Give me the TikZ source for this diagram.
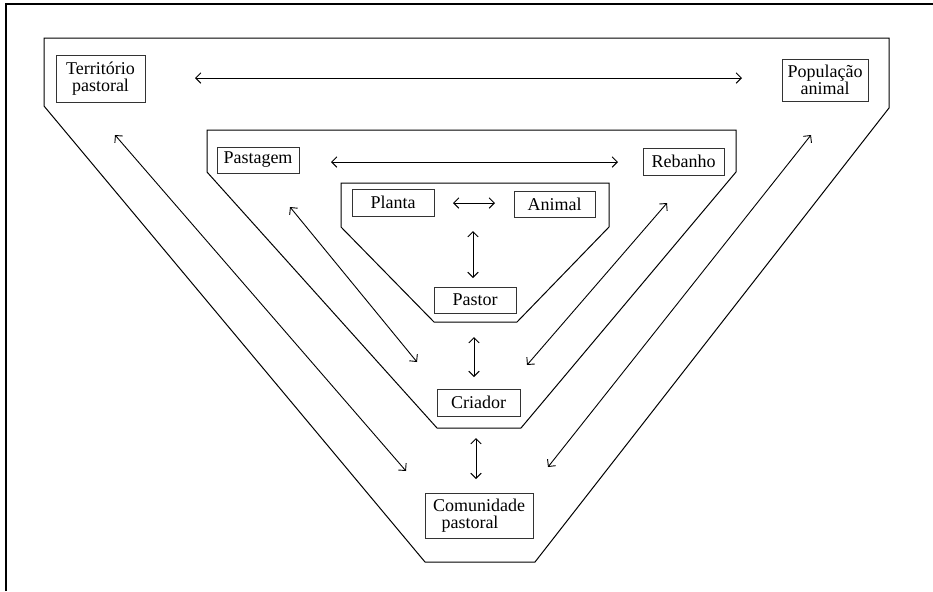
\documentclass[tikz,border=0pt]{standalone}
\usepackage{fontspec}
\setmainfont{Liberation Serif}
\newfontfamily\timesfont{Liberation Serif}
\usetikzlibrary{arrows.meta}
\begin{document}
\begin{tikzpicture}[x=0.5pt,y=-0.5pt,
  lbl/.style={draw=black!80, line width=0.5pt, inner sep=0pt, align=center,
    font=\timesfont\fontsize{9}{8.5}\selectfont},
  frame/.style={line width=0.5pt},
  link/.style={line width=0.45pt, {Straight Barb[length=2.6pt,width=5.2pt]}-{Straight Barb[length=2.6pt,width=5.2pt]}},
  edge/.style={line width=1pt}]
\useasboundingbox (0,0) rectangle (933,591);
% page frame (top and left)
\draw[edge] (6,591) -- (6,4) -- (933,4);
% trapezoid frames
\draw[frame] (44,38) -- (889,38) -- (889,108) -- (535,562) -- (425,562) -- (44,106) -- cycle;
\draw[frame] (207,130) -- (736,130) -- (736,172) -- (521,428) -- (437,428) -- (207,172) -- cycle;
\draw[frame] (341,183) -- (609,183) -- (609,227) -- (517,322) -- (434,322) -- (341,227) -- cycle;
% boxes
\node[lbl, minimum width=44.5pt, minimum height=23.5pt] (ter) at (100.5,78.5) {Território\\pastoral};
\node[lbl, minimum width=43pt, minimum height=21pt] (pop) at (825,80) {População\\animal};
\node[lbl, minimum width=41pt, minimum height=13pt] (pas) at (258,160) {Pastagem};
\node[lbl, minimum width=40.5pt, minimum height=13.5pt] (reb) at (683.5,161.5) {Rebanho};
\node[lbl, minimum width=41pt, minimum height=13.5pt] (pla) at (393,202.5) {Planta};
\node[lbl, minimum width=40.5pt, minimum height=13pt] (ani) at (554.5,204) {Animal};
\node[lbl, minimum width=41pt, minimum height=13pt] (pst) at (475,300) {Pastor};
\node[lbl, minimum width=41.5pt, minimum height=13.5pt] (cri) at (478.5,402.5) {Criador};
\node[lbl, minimum width=54pt, minimum height=22.5pt] (com) at (479,515.5) {Comunidade\\\hspace*{-9pt}pastoral};
% anchor coordinates for arrow ends
\coordinate (a1) at (195,78);  \coordinate (b1) at (742,78);
\coordinate (a2) at (331,162); \coordinate (b2) at (618,162);
\coordinate (a3) at (453,203); \coordinate (b3) at (495,203);
\coordinate (a4) at (473,231); \coordinate (b4) at (473,278);
\coordinate (a5) at (474,337); \coordinate (b5) at (474,377);
\coordinate (a6) at (476,438); \coordinate (b6) at (476,479);
\coordinate (a7) at (290,207); \coordinate (b7) at (417,362);
\coordinate (a8) at (667,203); \coordinate (b8) at (527,365);
\coordinate (a9) at (115,135); \coordinate (b9) at (406,471);
\coordinate (a10) at (811,135); \coordinate (b10) at (548,467);
% arrows
\draw[link] (a1) -- (b1);
\draw[link] (a2) -- (b2);
\draw[link] (a3) -- (b3);
\draw[link] (a4) -- (b4);
\draw[link] (a5) -- (b5);
\draw[link] (a6) -- (b6);
\draw[link] (a7) -- (b7);
\draw[link] (a8) -- (b8);
\draw[link] (a9) -- (b9);
\draw[link] (a10) -- (b10);
\end{tikzpicture}
\end{document}
